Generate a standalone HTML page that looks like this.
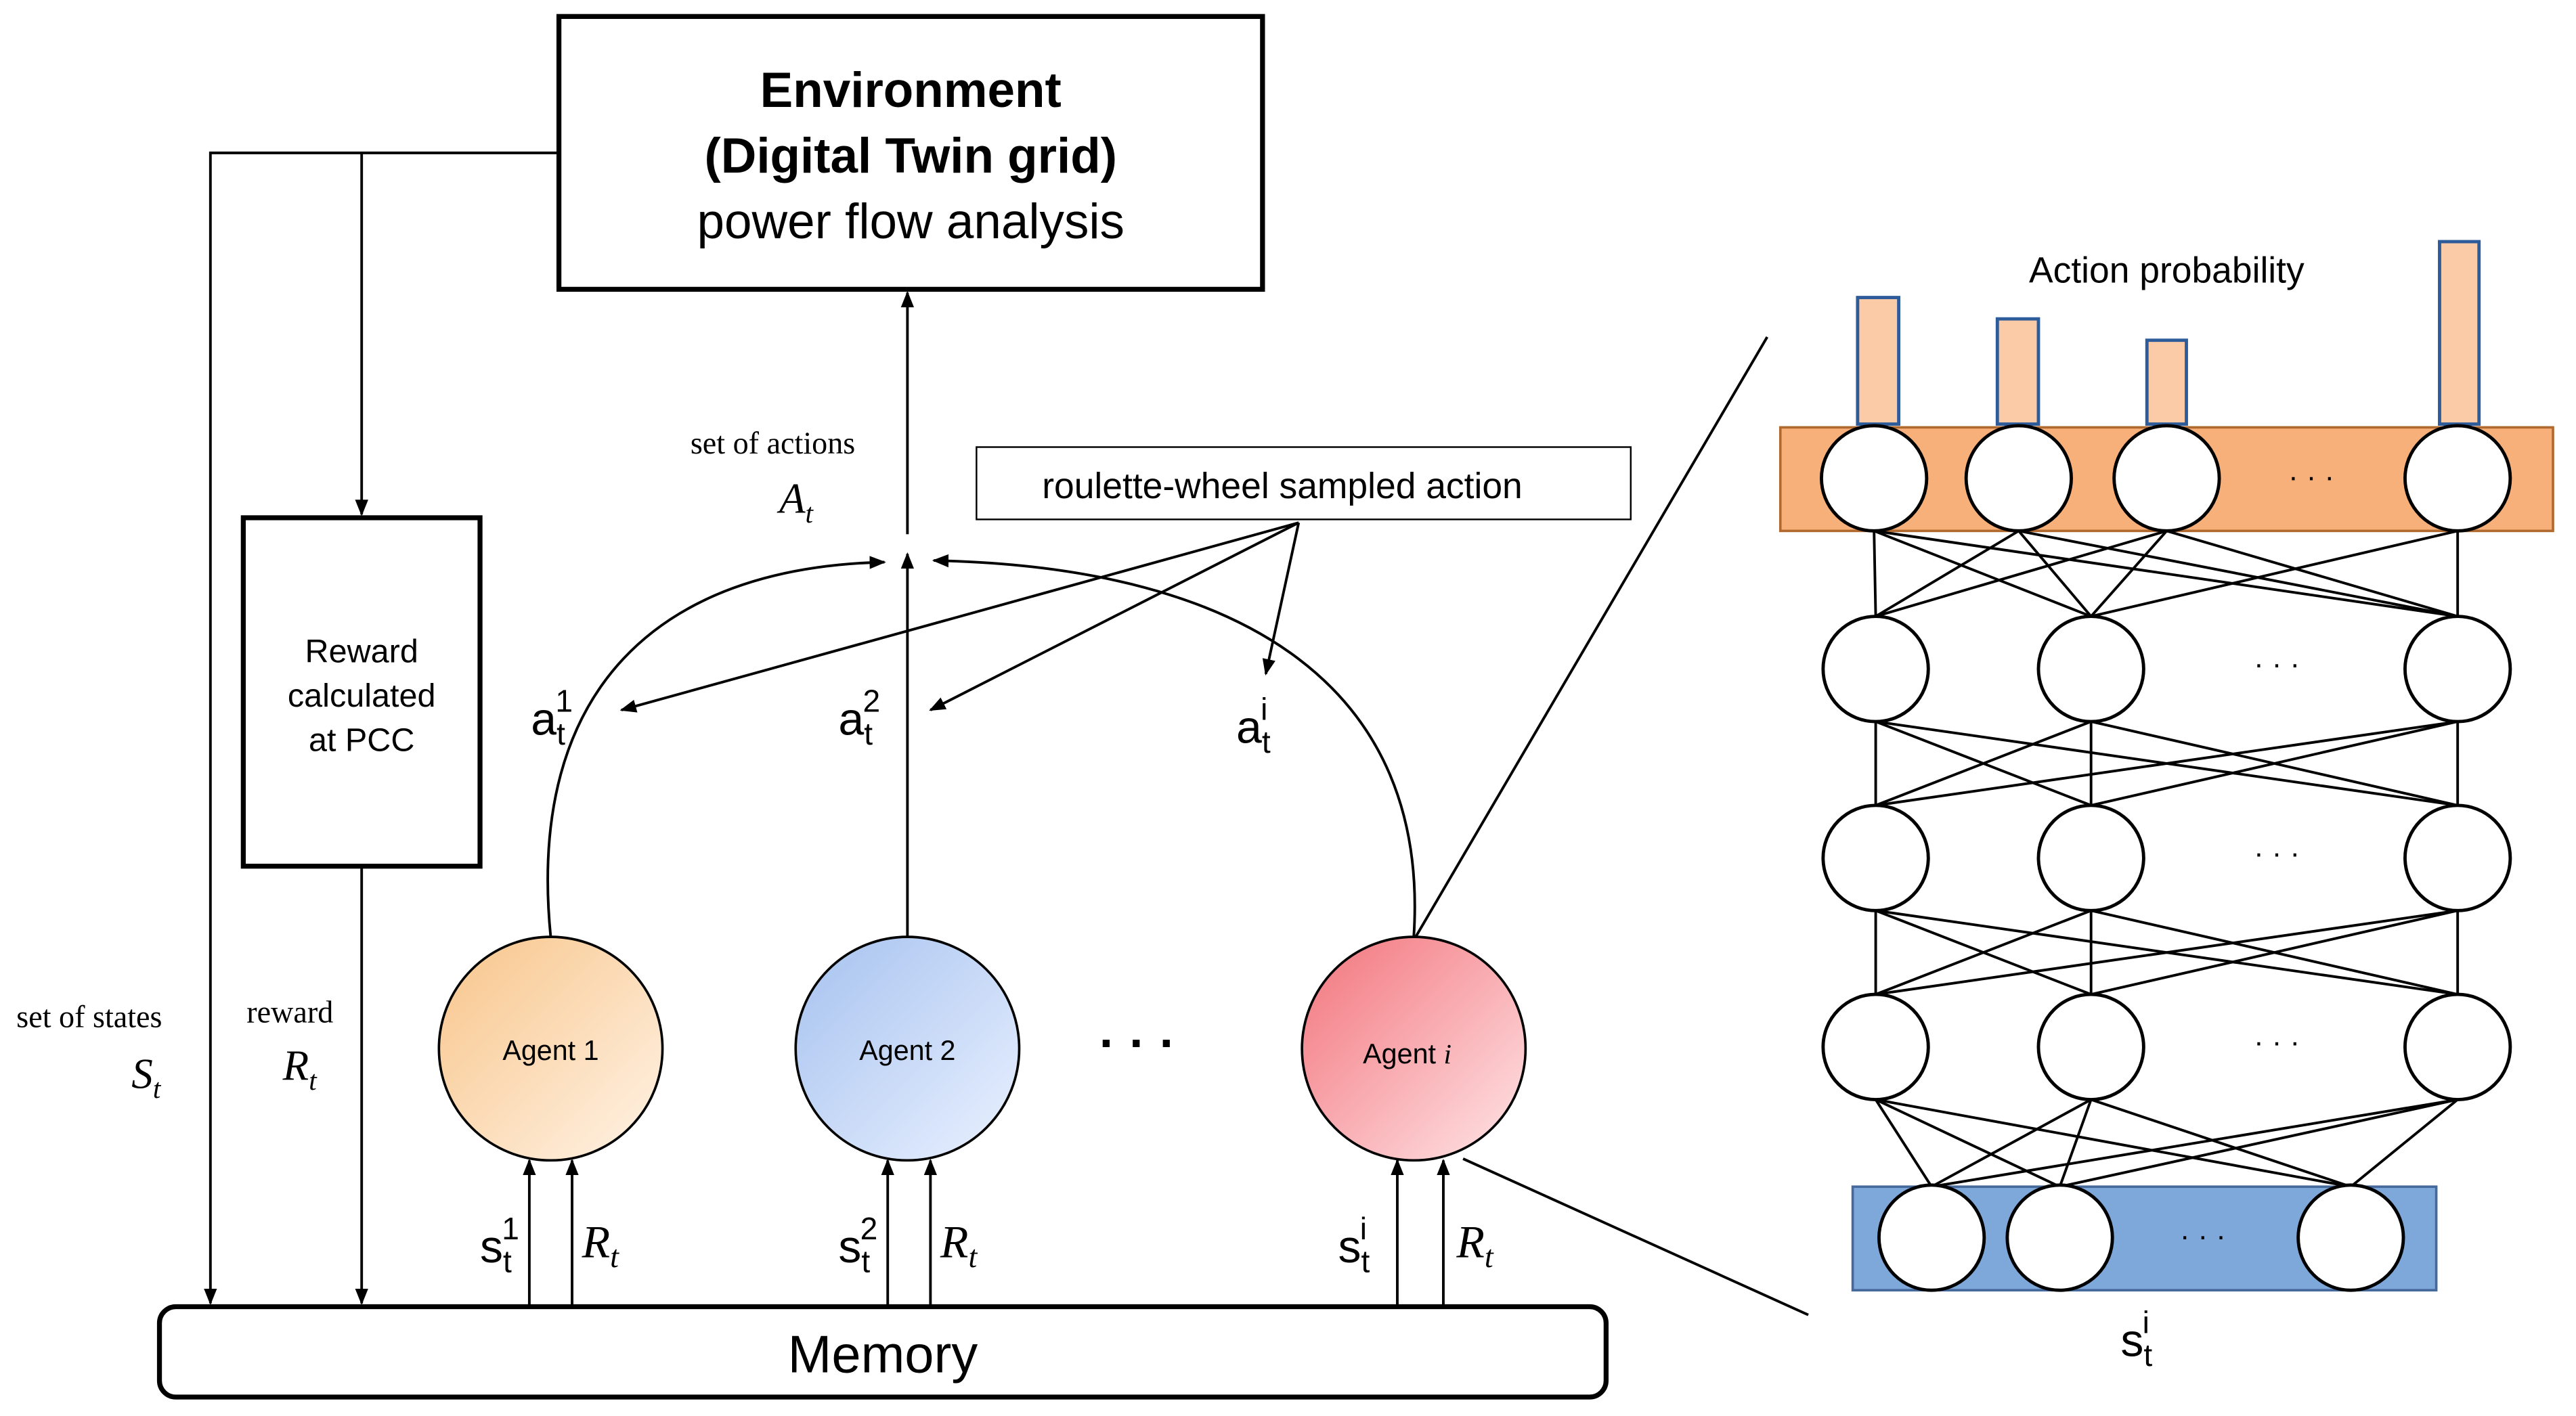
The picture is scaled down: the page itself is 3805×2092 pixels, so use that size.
<!DOCTYPE html>
<html><head><meta charset="utf-8"><style>
html,body{margin:0;padding:0;background:#fff;}
svg{display:block;}
text{font-family:"Liberation Sans",sans-serif;}
.s{font-family:"Liberation Serif",serif;}
</style></head><body>
<svg width="3805" height="2092" viewBox="0 0 1567 861.5" xmlns="http://www.w3.org/2000/svg">
<defs>
<marker id="ar" markerWidth="10" markerHeight="10" refX="9" refY="5" orient="auto" markerUnits="userSpaceOnUse"><path d="M0,1 L10,5 L0,9 z" fill="#000"/></marker>
<linearGradient id="g1" x1="0" y1="0" x2="1" y2="1"><stop offset="0" stop-color="#f8c58a"/><stop offset="1" stop-color="#fff3e6"/></linearGradient>
<linearGradient id="g2" x1="0" y1="0" x2="1" y2="1"><stop offset="0" stop-color="#a6c2ef"/><stop offset="1" stop-color="#eaf1ff"/></linearGradient>
<linearGradient id="g3" x1="0" y1="0" x2="1" y2="1"><stop offset="0" stop-color="#f2737b"/><stop offset="1" stop-color="#ffe6e8"/></linearGradient>
</defs>
<g stroke="#000" stroke-width="1.6" fill="none">
<rect x="340" y="10" width="428" height="166" stroke-width="3"/>
<polyline points="340,93 128,93 128,793" marker-end="url(#ar)"/>
<line x1="220" y1="93" x2="220" y2="313" marker-end="url(#ar)"/>
<rect x="148" y="315" width="144" height="212" stroke-width="3"/>
<line x1="220" y1="527" x2="220" y2="793" marker-end="url(#ar)"/>
<rect x="97" y="795" width="880" height="55" rx="10" stroke-width="3"/>
<line x1="322" y1="795" x2="322" y2="706" marker-end="url(#ar)"/>
<line x1="348" y1="795" x2="348" y2="706" marker-end="url(#ar)"/>
<line x1="540" y1="795" x2="540" y2="706" marker-end="url(#ar)"/>
<line x1="566" y1="795" x2="566" y2="706" marker-end="url(#ar)"/>
<line x1="850" y1="795" x2="850" y2="706" marker-end="url(#ar)"/>
<line x1="878" y1="795" x2="878" y2="706" marker-end="url(#ar)"/>
<line x1="552" y1="570" x2="552" y2="337" marker-end="url(#ar)"/>
<path d="M335,570 C320,420 400,345 538,342" marker-end="url(#ar)"/>
<path d="M860,570 C870,420 760,345 568,341" marker-end="url(#ar)"/>
<line x1="552" y1="325" x2="552" y2="178" marker-end="url(#ar)"/>
<rect x="594" y="272" width="398" height="44" stroke-width="1"/>
<line x1="790" y1="318" x2="378" y2="432" marker-end="url(#ar)"/>
<line x1="790" y1="318" x2="566" y2="432" marker-end="url(#ar)"/>
<line x1="790" y1="318" x2="770" y2="410" marker-end="url(#ar)"/>
<line x1="860" y1="572" x2="1075" y2="205"/>
<line x1="890" y1="705" x2="1100" y2="800"/>
</g>
<circle cx="335" cy="638" r="68" fill="url(#g1)" stroke="#000" stroke-width="1.5"/>
<circle cx="552" cy="638" r="68" fill="url(#g2)" stroke="#000" stroke-width="1.5"/>
<circle cx="860" cy="638" r="68" fill="url(#g3)" stroke="#000" stroke-width="1.5"/>
<g font-size="17" text-anchor="middle">
<text x="335" y="645">Agent 1</text><text x="552" y="645">Agent 2</text><text x="856" y="647">Agent <tspan font-style="italic" class="s">i</tspan></text>
</g>
<text x="692" y="645" font-size="30" font-weight="bold" text-anchor="middle">· · ·</text>
<g text-anchor="middle">
<text x="554" y="65" font-size="30" font-weight="bold">Environment</text>
<text x="554" y="105" font-size="30" font-weight="bold">(Digital Twin grid)</text>
<text x="554" y="145" font-size="30">power flow analysis</text>
<text x="220" y="403" font-size="20">Reward</text>
<text x="220" y="430" font-size="20">calculated</text>
<text x="220" y="457" font-size="20">at PCC</text>
<text x="537" y="835" font-size="32">Memory</text>
<text x="780" y="303" font-size="22">roulette-wheel sampled action</text>
<text x="1318" y="172" font-size="22">Action probability</text>
</g>
<g class="s">
<text x="10" y="625" font-size="19" class="s">set of states</text>
<text x="80" y="662" font-size="26" font-style="italic" class="s">S<tspan font-size="17" dy="6">t</tspan></text>
<text x="150" y="622" font-size="19" class="s">reward</text>
<text x="172" y="657" font-size="26" font-style="italic" class="s">R<tspan font-size="17" dy="6">t</tspan></text>
<text x="420" y="276" font-size="19" class="s">set of actions</text>
<text x="474" y="312" font-size="26" font-style="italic" class="s">A<tspan font-size="17" dy="6">t</tspan></text>
</g>
<g font-size="28">
<text x="292" y="768">s<tspan font-size="19" dy="6">t</tspan><tspan font-size="19" dx="-6" dy="-20">1</tspan></text>
<text x="354" y="765" font-style="italic" class="s">R<tspan font-size="19" dy="6">t</tspan></text>
<text x="510" y="768">s<tspan font-size="19" dy="6">t</tspan><tspan font-size="19" dx="-6" dy="-20">2</tspan></text>
<text x="572" y="765" font-style="italic" class="s">R<tspan font-size="19" dy="6">t</tspan></text>
<text x="814" y="768">s<tspan font-size="19" dy="6">t</tspan><tspan font-size="19" dx="-6" dy="-20">i</tspan></text>
<text x="886" y="765" font-style="italic" class="s">R<tspan font-size="19" dy="6">t</tspan></text>
<text x="323" y="447">a<tspan font-size="19" dy="6">t</tspan><tspan font-size="19" dx="-6" dy="-20">1</tspan></text>
<text x="510" y="447">a<tspan font-size="19" dy="6">t</tspan><tspan font-size="19" dx="-6" dy="-20">2</tspan></text>
<text x="752" y="452">a<tspan font-size="19" dy="6">t</tspan><tspan font-size="19" dx="-6" dy="-20">i</tspan></text>
<text x="1290" y="825">s<tspan font-size="19" dy="6">t</tspan><tspan font-size="19" dx="-6" dy="-20">i</tspan></text>
</g>
<rect x="1083" y="260" width="470" height="63" fill="#f8b07a" stroke="#b06a30" stroke-width="1.5"/>
<rect x="1127" y="722" width="355" height="63" fill="#7ea8da" stroke="#45699a" stroke-width="1.5"/>
<g fill="#fbcaa6" stroke="#2e5c9a" stroke-width="2">
<rect x="1130" y="181" width="25" height="77"/><rect x="1215" y="194" width="25" height="64"/>
<rect x="1306" y="207" width="24" height="51"/><rect x="1484" y="147" width="24" height="111"/>
</g>
<g stroke="#000" stroke-width="1.6">
<line x1="1140" y1="323" x2="1141" y2="375"/><line x1="1140" y1="323" x2="1272" y2="375"/><line x1="1140" y1="323" x2="1495" y2="375"/>
<line x1="1228" y1="323" x2="1141" y2="375"/><line x1="1228" y1="323" x2="1272" y2="375"/><line x1="1228" y1="323" x2="1495" y2="375"/>
<line x1="1318" y1="323" x2="1141" y2="375"/><line x1="1318" y1="323" x2="1272" y2="375"/><line x1="1318" y1="323" x2="1495" y2="375"/>
<line x1="1495" y1="323" x2="1495" y2="375"/><line x1="1495" y1="323" x2="1272" y2="375"/>
<g id="full">
<line x1="1141" y1="439" x2="1141" y2="490"/><line x1="1141" y1="439" x2="1272" y2="490"/><line x1="1141" y1="439" x2="1495" y2="490"/>
<line x1="1272" y1="439" x2="1141" y2="490"/><line x1="1272" y1="439" x2="1272" y2="490"/><line x1="1272" y1="439" x2="1495" y2="490"/>
<line x1="1495" y1="439" x2="1141" y2="490"/><line x1="1495" y1="439" x2="1272" y2="490"/><line x1="1495" y1="439" x2="1495" y2="490"/>
</g>
<use href="#full" transform="translate(0,115)"/>
<line x1="1141" y1="669" x2="1175" y2="722"/><line x1="1141" y1="669" x2="1253" y2="722"/><line x1="1141" y1="669" x2="1430" y2="722"/>
<line x1="1272" y1="669" x2="1175" y2="722"/><line x1="1272" y1="669" x2="1253" y2="722"/><line x1="1272" y1="669" x2="1430" y2="722"/>
<line x1="1495" y1="669" x2="1175" y2="722"/><line x1="1495" y1="669" x2="1253" y2="722"/><line x1="1495" y1="669" x2="1430" y2="722"/>
</g>
<g fill="#fff" stroke="#000" stroke-width="2">
<circle cx="1140" cy="291" r="32"/><circle cx="1228" cy="291" r="32"/><circle cx="1318" cy="291" r="32"/><circle cx="1495" cy="291" r="32"/>
<circle cx="1141" cy="407" r="32"/><circle cx="1272" cy="407" r="32"/><circle cx="1495" cy="407" r="32"/>
<circle cx="1141" cy="522" r="32"/><circle cx="1272" cy="522" r="32"/><circle cx="1495" cy="522" r="32"/>
<circle cx="1141" cy="637" r="32"/><circle cx="1272" cy="637" r="32"/><circle cx="1495" cy="637" r="32"/>
<circle cx="1175" cy="753" r="32"/><circle cx="1253" cy="753" r="32"/><circle cx="1430" cy="753" r="32"/>
</g>
<g font-size="18" text-anchor="middle">
<text x="1406" y="296">· · ·</text><text x="1385" y="410">· · ·</text><text x="1385" y="525">· · ·</text><text x="1385" y="640">· · ·</text><text x="1340" y="758">· · ·</text>
</g>
</svg>
</body></html>
